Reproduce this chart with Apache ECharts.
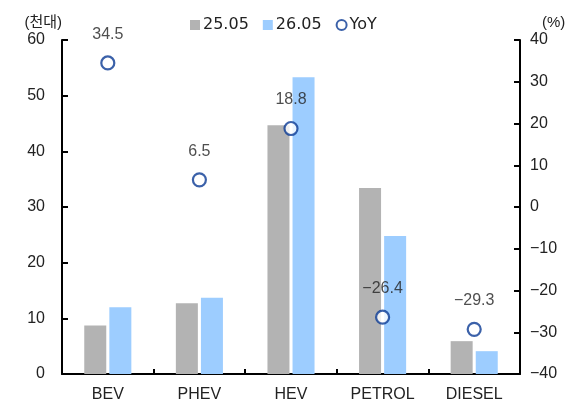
<!DOCTYPE html>
<html lang="ko">
<head>
    <meta charset="UTF-8">
    <title>YoY</title>
    <style>
        html, body { margin: 0; padding: 0; background: #fff; }
        #main { width: 574px; height: 407px; }
    </style>
    <script type="text/javascript" src="https://cdn.jsdelivr.net/npm/echarts@6/dist/echarts.min.js"></script>
</head>
<body>
<div id="main"></div>
<script type="text/javascript">
    var categories = ["BEV", "PHEV", "HEV", "PETROL", "DIESEL"];
    var may25 = [8.7, 12.7, 44.7, 33.4, 5.9];
    var may26 = [12.0, 13.7, 53.3, 24.8, 4.1];
    var yoy = [34.5, 6.5, 18.8, -26.4, -29.3];

    var font = "'Liberation Sans', 'Noto Sans CJK KR', sans-serif";
    function minus(v) { return String(v).replace('-', '\u2212'); }

    var chart = echarts.init(document.getElementById('main'));
    var option = {
        animation: false,
        textStyle: { fontFamily: font },
        grid: { left: 62, right: 54, top: 40, bottom: 33 },
        legend: {
            top: 12,
            left: 185,
            itemWidth: 10,
            itemHeight: 10,
            itemGap: 14,
            textStyle: { fontSize: 16, color: '#222', fontFamily: "'DejaVu Sans', sans-serif", padding: [0, 0, 0, -2] },
            data: [
                { name: '25.05', icon: 'rect' },
                { name: '26.05', icon: 'rect' },
                { name: 'YoY', icon: 'circle', itemStyle: { color: '#fff', borderColor: '#0a3a94', borderWidth: 2 } }
            ]
        },
        xAxis: {
            type: 'category',
            data: categories,
            axisLine: { lineStyle: { color: '#000', width: 2 } },
            axisTick: { show: true, inside: true, length: 5, lineStyle: { color: '#000', width: 2 } },
            axisLabel: { fontSize: 16, color: '#222', margin: 13 }
        },
        yAxis: [{
            type: 'value',
            min: 0, max: 60, interval: 10,
            name: '(천대)',
            nameLocation: 'end',
            nameGap: 10,
            nameTextStyle: { fontSize: 15, color: '#222', align: 'right' },
            splitLine: { show: false },
            axisLine: { show: true, lineStyle: { color: '#000', width: 2 } },
            axisTick: { show: true, inside: true, length: 6, lineStyle: { color: '#000', width: 2 } },
            axisLabel: { fontSize: 16, color: '#222', margin: 17 }
        }, {
            type: 'value',
            min: -40, max: 40, interval: 10,
            name: '(%)',
            nameLocation: 'end',
            nameGap: 10,
            nameTextStyle: { fontSize: 15, color: '#222', align: 'left', padding: [0, 0, 0, 22] },
            splitLine: { show: false },
            axisLine: { show: true, lineStyle: { color: '#000', width: 2 } },
            axisTick: { show: true, inside: true, length: 6, lineStyle: { color: '#000', width: 2 } },
            axisLabel: { fontSize: 16, color: '#222', margin: 10, formatter: minus }
        }],
        series: [{
            name: '25.05',
            type: 'bar',
            data: may25,
            barWidth: 22,
            barGap: '14%',
            itemStyle: { color: '#b3b3b3' }
        }, {
            name: '26.05',
            type: 'bar',
            data: may26,
            barWidth: 22,
            itemStyle: { color: '#9dcdff' }
        }, {
            name: 'YoY',
            type: 'scatter',
            yAxisIndex: 1,
            data: yoy,
            symbol: 'circle',
            symbolSize: 13,
            itemStyle: { color: '#fff', borderColor: '#0a3a94', borderWidth: 2.2 },
            label: {
                show: true,
                position: 'top',
                distance: 13,
                fontSize: 16,
                color: '#222',
                textBorderWidth: 0,
                formatter: function (p) { return minus(p.value.toFixed(1)); }
            }
        }]
    };
    chart.setOption(option);
</script>
</body>
</html>
